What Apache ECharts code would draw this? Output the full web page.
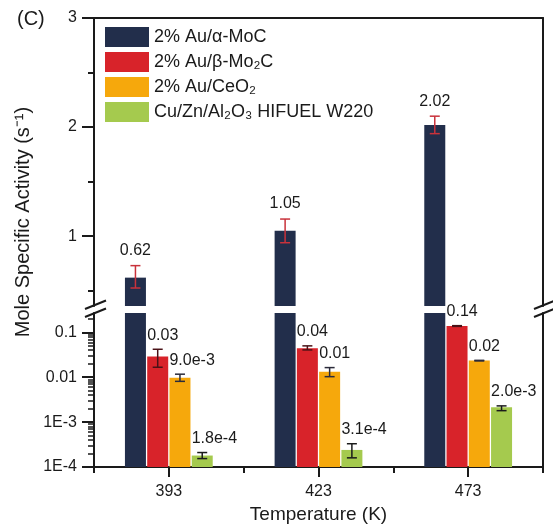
<!DOCTYPE html>
<html>
<head>
<meta charset="utf-8">
<script src="https://cdn.jsdelivr.net/npm/echarts@6/dist/echarts.min.js"></script>
<style>
  html, body { margin: 0; padding: 0; background: #fff; }
  #chart { width: 553px; height: 526px; }
</style>
</head>
<body>
<div id="chart"></div>
<script>
// data
var categories = ['393', '423', '473'];
var seriesNames = ['2% Au/α-MoC', '2% Au/β-Mo₂C', '2% Au/CeO₂', 'Cu/Zn/Al₂O₃ HIFUEL W220'];
var moc = [0.62, 1.05, 2.02];
var mo2c = [0.029, 0.044, 0.138];
var ceo2 = [0.0098, 0.0133, 0.0235];
var w220 = [1.8e-4, 2.4e-4, 2.15e-3];
var mocHi = [0.73, 1.157, 2.10], mocLo = [0.525, 0.94, 1.94];
var mo2cHi = [0.042, 0.050, 0.141], mo2cLo = [0.0167, 0.0406, 0.136];
var ceo2Hi = [0.0117, 0.0164, 0.0238], ceo2Lo = [0.0081, 0.0103, 0.0231];
var w220Hi = [2.1e-4, 3.3e-4, 2.3e-3], w220Lo = [1.54e-4, 1.6e-4, 1.8e-3];
var mocLabels = ['0.62', '1.05', '2.02'];
var mo2cLabels = ['0.03', '0.04', '0.14'];
var ceo2Labels = ['9.0e-3', '0.01', '0.02'];
var w220Labels = ['1.8e-4', '3.1e-4', '2.0e-3'];
var topTicks = [1, 2, 3];
var topMinorTicks = [0.5, 1.5, 2.5];
var logTicks = [1e-4, 1e-3, 0.01, 0.1];
var logTickLabels = ['1E-4', '1E-3', '0.01', '0.1'];

var colors = ['#222e4b', '#d8232a', '#f6a80c', '#a5ca4e'];
var errColors = ['#c9323b', '#4a1217', '#2b2b3a', '#1b1b1b'];
var FONT = 'Liberation Sans, Arial, sans-serif';
var BAR_W = 21, GAP = 0.06;

var topMin = 0.36, topMax = 3;
var logMin = 1e-4, logMax = 0.27;
var left = 94, right = 10;
var topGrid = { left: left, right: right, top: 18, height: 288 };
var botGrid = { left: left, right: right, top: 313, height: 154 };

var logMinor = [];
[1e-4, 1e-3, 1e-2, 1e-1].forEach(function (d) {
  for (var k = 2; k <= 9; k++) if (d * k <= logMax) logMinor.push(d * k);
});

var values = [moc, mo2c, ceo2, w220];
var his = [mocHi, mo2cHi, ceo2Hi, w220Hi];
var los = [mocLo, mo2cLo, ceo2Lo, w220Lo];
var labels = [mocLabels, mo2cLabels, ceo2Labels, w220Labels];

var chart = echarts.init(document.getElementById('chart'));

var ink = '#1a1a1a';
var axisLine = { show: true, lineStyle: { color: ink, width: 2 } };
function ticks(vals, len, w) {
  var t = { show: true, inside: false, length: len, lineStyle: { color: ink, width: w || 2 } };
  if (vals) t.customValues = vals;
  return t;
}

function errData(inTop) {
  var out = [], txt = [];
  for (var s = 0; s < 4; s++) {
    for (var i = 0; i < categories.length; i++) {
      var isTop = values[s][i] > topMin;
      if (isTop !== inTop) continue;
      out.push([i, los[s][i], his[s][i], s]);
      txt.push(labels[s][i]);
    }
  }
  return { data: out, txt: txt };
}

function errSeries(inTop, xi, yi) {
  var e = errData(inTop);
  return {
    type: 'custom',
    xAxisIndex: xi,
    yAxisIndex: yi,
    z: 5,
    silent: true,
    data: e.data,
    encode: { x: 0, y: [1, 2] },
    renderItem: function (params, api) {
      var i = api.value(0), s = api.value(3);
      var pHi = api.coord([i, api.value(2)]);
      var pLo = api.coord([i, api.value(1)]);
      var x = pHi[0] + (s - 1.5) * BAR_W * (1 + GAP);
      var st = { stroke: errColors[s], lineWidth: 1.5 };
      var lbl = e.txt[params.dataIndex];
      return {
        type: 'group',
        children: [
          { type: 'line', shape: { x1: x, y1: pHi[1], x2: x, y2: pLo[1] }, style: st },
          { type: 'line', shape: { x1: x - 5, y1: pHi[1], x2: x + 5, y2: pHi[1] }, style: st },
          { type: 'line', shape: { x1: x - 5, y1: pLo[1], x2: x + 5, y2: pLo[1] }, style: st },
          {
            type: 'text',
            style: {
              text: lbl,
              x: s === 0 ? x : x - BAR_W / 2,
              y: pHi[1] - (s === 0 ? 15 : 14),
              align: s === 0 ? 'center' : 'left',
              verticalAlign: 'middle',
              fill: ink,
              font: '16px ' + FONT
            }
          }
        ]
      };
    }
  };
}

var series = [];
// top (linear) part
for (var s = 0; s < 4; s++) {
  series.push({
    name: seriesNames[s],
    type: 'bar',
    xAxisIndex: 0,
    yAxisIndex: 0,
    barWidth: BAR_W,
    barGap: (GAP * 100) + '%',
    clip: true,
    itemStyle: { color: colors[s] },
    data: values[s].map(function (v) { return v > topMin ? v : '-'; })
  });
}
// bottom (log) part
for (var s2 = 0; s2 < 4; s2++) {
  series.push({
    name: seriesNames[s2],
    type: 'bar',
    xAxisIndex: 1,
    yAxisIndex: 3,
    barWidth: BAR_W,
    barGap: (GAP * 100) + '%',
    clip: true,
    itemStyle: { color: colors[s2] },
    data: values[s2]
  });
}
series.push(errSeries(true, 0, 0));
series.push(errSeries(false, 1, 3));

// break marks sit between the two grids
var gapY = (topGrid.top + topGrid.height + botGrid.top) / 2;
function breakMark(cx) {
  return [
    { type: 'line', shape: { x1: cx - 9, y1: gapY - 0.5, x2: cx + 12, y2: gapY - 9 }, style: { stroke: ink, lineWidth: 2 } },
    { type: 'line', shape: { x1: cx - 9, y1: gapY + 7.5, x2: cx + 12, y2: gapY - 1 }, style: { stroke: ink, lineWidth: 2 } }
  ];
}

var option = {
  animation: false,
  backgroundColor: '#fff',
  title: {
    text: '(C)',
    left: 12,
    top: 4,
    textStyle: { fontSize: 20, fontWeight: 'normal', color: ink, fontFamily: FONT }
  },
  legend: {
    orient: 'vertical',
    left: 100,
    top: 22,
    itemWidth: 44,
    itemHeight: 20,
    itemGap: 5,
    icon: 'rect',
    data: seriesNames,
    textStyle: { fontSize: 18, color: ink, fontFamily: FONT }
  },
  grid: [topGrid, botGrid],
  xAxis: [
    {
      gridIndex: 0, type: 'category', data: categories, position: 'top',
      axisLine: axisLine, axisTick: { show: false }, axisLabel: { show: false }
    },
    {
      gridIndex: 1, type: 'category', data: categories, position: 'bottom',
      name: 'Temperature (K)', nameLocation: 'middle', nameGap: 38,
      nameTextStyle: { fontSize: 19, color: ink, fontFamily: FONT },
      axisLine: axisLine,
      axisTick: Object.assign(ticks(null, 10), { alignWithLabel: true }),
      axisLabel: { fontSize: 16, color: ink, margin: 17, fontFamily: FONT }
    },
    {
      gridIndex: 1, type: 'category', data: categories, position: 'bottom',
      axisLine: { show: false },
      axisTick: ticks(null, 6),
      axisLabel: { show: false }
    }
  ],
  yAxis: [
    {
      gridIndex: 0, type: 'value', min: topMin, max: topMax, position: 'left',
      axisLine: axisLine, splitLine: { show: false },
      axisTick: ticks(topTicks, 12),
      axisLabel: { customValues: topTicks, fontSize: 16, color: ink, margin: 17, fontFamily: FONT }
    },
    {
      gridIndex: 0, type: 'value', min: topMin, max: topMax, position: 'left',
      axisLine: { show: false }, splitLine: { show: false },
      axisTick: ticks(topMinorTicks, 6),
      axisLabel: { show: false }
    },
    {
      gridIndex: 0, type: 'value', min: topMin, max: topMax, position: 'right',
      axisLine: axisLine, splitLine: { show: false },
      axisTick: { show: false }, axisLabel: { show: false }
    },
    {
      gridIndex: 1, type: 'log', min: logMin, max: logMax, startValue: logMin, position: 'left',
      axisLine: axisLine, splitLine: { show: false },
      axisTick: ticks(logTicks, 12),
      axisLabel: {
        customValues: logTicks, fontSize: 16, color: ink, margin: 17, fontFamily: FONT,
        formatter: function (v) {
          var k = Math.round(Math.log10(v));
          for (var j = 0; j < logTicks.length; j++) {
            if (Math.round(Math.log10(logTicks[j])) === k) return logTickLabels[j];
          }
          return '';
        }
      }
    },
    {
      gridIndex: 1, type: 'log', min: logMin, max: logMax, position: 'left',
      axisLine: { show: false }, splitLine: { show: false },
      axisTick: ticks(logMinor, 6, 1.5),
      axisLabel: { show: false }
    },
    {
      gridIndex: 1, type: 'log', min: logMin, max: logMax, position: 'right',
      axisLine: axisLine, splitLine: { show: false },
      axisTick: { show: false }, axisLabel: { show: false }
    }
  ],
  graphic: [
    {
      type: 'text',
      x: 23,
      y: 222,
      rotation: Math.PI / 2,
      style: {
        text: 'Mole Specific Activity (s⁻¹)',
        align: 'center',
        verticalAlign: 'middle',
        fill: ink,
        font: '20px ' + FONT
      }
    }
  ].concat(breakMark(left), breakMark(553 - right)),
  series: series
};

chart.setOption(option);
</script>
</body>
</html>
